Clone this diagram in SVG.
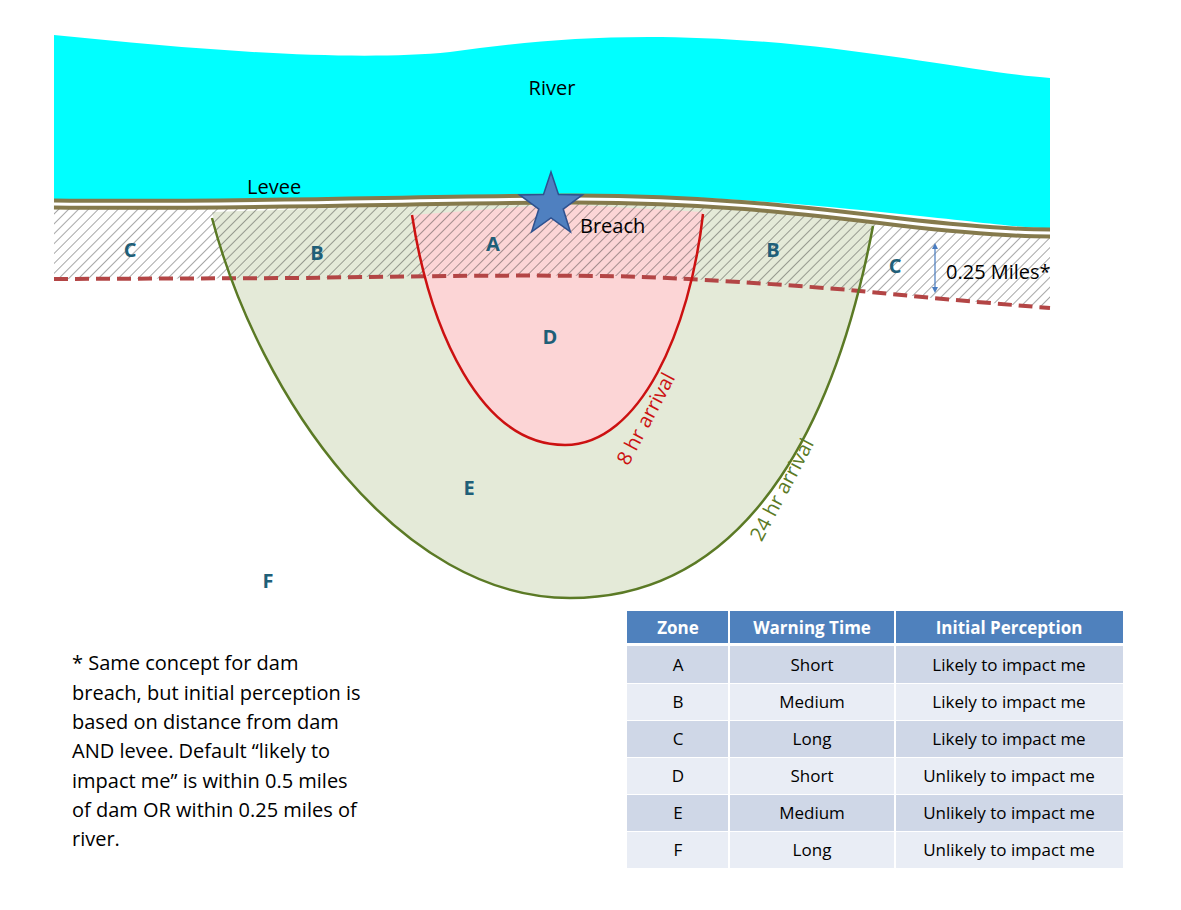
<svg xmlns="http://www.w3.org/2000/svg" width="1181" height="910" viewBox="0 0 1181 910">
<defs>
<pattern id="hatch" patternUnits="userSpaceOnUse" width="7" height="7" patternTransform="rotate(45)">
<line x1="0" y1="0" x2="0" y2="7" stroke="#222" stroke-width="0.8"/>
</pattern>
<marker id="ah" viewBox="0 0 10 10" refX="5" refY="5" markerWidth="5" markerHeight="5" orient="auto-start-reverse"><path d="M0,0 L10,5 L0,10 Z" fill="#4a7cc0"/></marker>
<style>
.z{font-family:"Open Sans","Liberation Sans",sans-serif;font-weight:bold;font-size:20px;fill:#1f5f78;text-anchor:middle}
.t{font-family:"Open Sans","Liberation Sans",sans-serif;font-size:20px;fill:#000}
.c{font-family:"Open Sans","Liberation Sans",sans-serif;font-size:17px;fill:#000;text-anchor:middle}
.h{font-family:"Open Sans","Liberation Sans",sans-serif;font-size:17px;font-weight:bold;fill:#fff;text-anchor:middle}
.r1{fill:#cfd7e7}.r2{fill:#e9edf5}
</style>
</defs>
<rect width="1181" height="910" fill="#fff"/>
<g id="zones">
<path id="zoneE" d="M212,212 C260,400 400,598 570,598 C760,598 840,400 875,222 L800,212 L700,203 L560,204 L400,206 Z" fill="#e4ead8" stroke="none"/>
<path id="zoneD" d="M412,215 C430,330 480,445 565,445 C640,445 690,330 703,212 L560,204 Z" fill="#fcd5d6" stroke="none"/>
<path id="hatched" d="M54,208 C250,210 400,204 560,203 C700,202 800,214 900,226 C980,235 1020,237 1050,237 L1050,308 C950,300 880,293 850,290 C750,282 650,276 600,276 C500,275 430,276 300,278 L54,279 Z" fill="url(#hatch)"/>
</g>
<g id="connectors" fill="none">
<path d="M54,279 L300,278 C430,276 500,275 600,276 C650,276 750,282 850,290 C880,293 950,300 1050,308" stroke="#b34545" stroke-width="4" stroke-dasharray="14 7"/>
<path d="M212,218 C260,400 400,598 570,598 C760,598 840,400 873,226" stroke="#5b7a25" stroke-width="2.5"/>
<path d="M412,215 C430,330 480,445 565,445 C640,445 690,330 703,214" stroke="#cc1111" stroke-width="2.5"/>
<line x1="935" y1="246" x2="935" y2="290" stroke="#4a7cc0" stroke-width="1.2" marker-start="url(#ah)" marker-end="url(#ah)"/>
</g>
<g id="river">
<path d="M54,35 C200,50 350,62 450,52 C550,38 650,30 800,45 C900,55 1000,75 1050,78 L1050,228 C1020,228 980,222 900,214 C800,204 700,194 560,195 C400,196 250,202 54,200 Z" fill="#00ffff"/>
<text x="552" y="95" class="t" text-anchor="middle" font-size="22">River</text>
</g>
<g id="levee" fill="none">
<path d="M54,204 C250,206 400,200 560,199 C700,198 800,210 900,222 C980,231 1020,233 1050,233" stroke="#857a4c" stroke-width="11"/>
<path d="M54,204 C250,206 400,200 560,199 C700,198 800,210 900,222 C980,231 1020,233 1050,233" stroke="#ffffff" stroke-width="3"/>
<text x="247" y="194" class="t">Levee</text>
</g>
<g id="breach">
<path d="M551,172 L558.5,194.6 L582.4,194.9 L563.2,209.1 L570.4,231.9 L551,218 L531.6,231.9 L538.8,209.1 L519.6,194.9 L543.5,194.6 Z" fill="#4f80c0" stroke="#2f528f" stroke-width="1.5"/>
<text x="580" y="233" class="t">Breach</text>
</g>
<g id="labels">
<text x="130" y="257" class="z">C</text>
<text x="317" y="260" class="z">B</text>
<text x="493" y="251" class="z">A</text>
<text x="773" y="257" class="z">B</text>
<text x="895" y="273" class="z">C</text>
<text x="550" y="344" class="z">D</text>
<text x="469" y="495" class="z">E</text>
<text x="268" y="588" class="z">F</text>
<text x="946" y="279" class="t">0.25 Miles*</text>
<text transform="translate(652,422) rotate(-62)" class="t" text-anchor="middle" fill="#cc1111" style="fill:#cc1111">8 hr arrival</text>
<text transform="translate(788,493) rotate(-62)" class="t" text-anchor="middle" style="fill:#5b7a25">24 hr arrival</text>
</g>
<g id="note" class="t">
<text x="72" y="670">* Same concept for dam</text>
<text x="72" y="700">breach, but initial perception is</text>
<text x="72" y="729">based on distance from dam</text>
<text x="72" y="758">AND levee. Default “likely to</text>
<text x="72" y="788">impact me” is within 0.5 miles</text>
<text x="72" y="817">of dam OR within 0.25 miles of</text>
<text x="72" y="846">river.</text>
</g>
<g id="table">
<rect x="627" y="611" width="496" height="32" fill="#4f81bd"/>
<line x1="729" y1="611" x2="729" y2="643" stroke="#fff" stroke-width="2"/>
<line x1="895" y1="611" x2="895" y2="643" stroke="#fff" stroke-width="2"/>
<text x="678" y="634" class="h">Zone</text><text x="812" y="634" class="h">Warning Time</text><text x="1009" y="634" class="h">Initial Perception</text>
<rect x="627" y="646" width="496" height="37" class="r1"/>
<rect x="627" y="684" width="496" height="36" class="r2"/>
<rect x="627" y="721" width="496" height="36" class="r1"/>
<rect x="627" y="758" width="496" height="36" class="r2"/>
<rect x="627" y="795" width="496" height="36" class="r1"/>
<rect x="627" y="832" width="496" height="36" class="r2"/>
<line x1="729" y1="646" x2="729" y2="868" stroke="#fff" stroke-width="2"/>
<line x1="895" y1="646" x2="895" y2="868" stroke="#fff" stroke-width="2"/>
<text x="678" y="671" class="c">A</text><text x="812" y="671" class="c">Short</text><text x="1009" y="671" class="c">Likely to impact me</text>
<text x="678" y="708" class="c">B</text><text x="812" y="708" class="c">Medium</text><text x="1009" y="708" class="c">Likely to impact me</text>
<text x="678" y="745" class="c">C</text><text x="812" y="745" class="c">Long</text><text x="1009" y="745" class="c">Likely to impact me</text>
<text x="678" y="782" class="c">D</text><text x="812" y="782" class="c">Short</text><text x="1009" y="782" class="c">Unlikely to impact me</text>
<text x="678" y="819" class="c">E</text><text x="812" y="819" class="c">Medium</text><text x="1009" y="819" class="c">Unlikely to impact me</text>
<text x="678" y="856" class="c">F</text><text x="812" y="856" class="c">Long</text><text x="1009" y="856" class="c">Unlikely to impact me</text>
</g>
</svg>
